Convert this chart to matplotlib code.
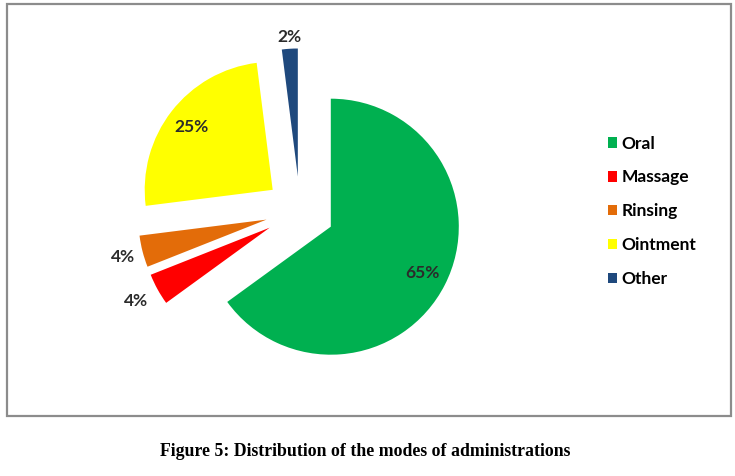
import numpy as np
import matplotlib.pyplot as plt
from matplotlib.patches import Rectangle

# data
modes = ['Oral', 'Massage', 'Rinsing', 'Ointment', 'Other']
shares = [65, 4, 4, 25, 2]
colors = ['#00B050', '#FF0000', '#E36C09', '#FFFF00', '#1F497D']
caption = 'Figure 5: Distribution of the modes of administrations'

# label distance (fraction of radius) for each slice
label_dist = [0.80, 1.19, 1.16, 0.80, 1.09]

W, H = 735, 476
fig = plt.figure(figsize=(W / 100, H / 100), dpi=100)

# grey frame round the chart area
fig.patches.append(Rectangle((7 / W, 60 / H), 724 / W, 412 / H, transform=fig.transFigure,
                             fill=False, edgecolor='#8c8c8c', linewidth=1.6))

# pie axes, centre at about (300, 211) px from top, 128 px per unit
cx, cy, half = 300, H - 211, 200
ax = fig.add_axes([(cx - half) / W, (cy - half) / H, 2 * half / W, 2 * half / H])
wedges, _ = ax.pie(shares, colors=colors, startangle=90, counterclock=False,
                   explode=[0.27] * len(shares), radius=1,
                   wedgeprops=dict(linewidth=0))
lim = half / 128
ax.set_xlim(-lim, lim)
ax.set_ylim(-lim, lim)
ax.set_aspect('equal')
ax.axis('off')

for w, v, d in zip(wedges, shares, label_dist):
    th = np.radians((w.theta1 + w.theta2) / 2)
    x0, y0 = w.center
    ax.text(x0 + d * w.r * np.cos(th), y0 + d * w.r * np.sin(th), '%d%%' % v,
            ha='center', va='center', fontsize=12.5, fontweight='bold',
            family='Lato', color='#2b2b2b')

fig.legend(wedges, modes, loc='center left', bbox_to_anchor=(0.815, 0.556),
           frameon=False, prop=dict(family='Lato', weight='bold', size=12.5),
           handlelength=0.55, handleheight=0.55, handletextpad=0.25,
           labelspacing=1.03, borderpad=0)

fig.text(0.497, 1 - 452 / H, caption, ha='center', va='center',
         family='Liberation Serif', fontweight='bold', fontsize=12.8)

fig.savefig('out.png', dpi=100)
